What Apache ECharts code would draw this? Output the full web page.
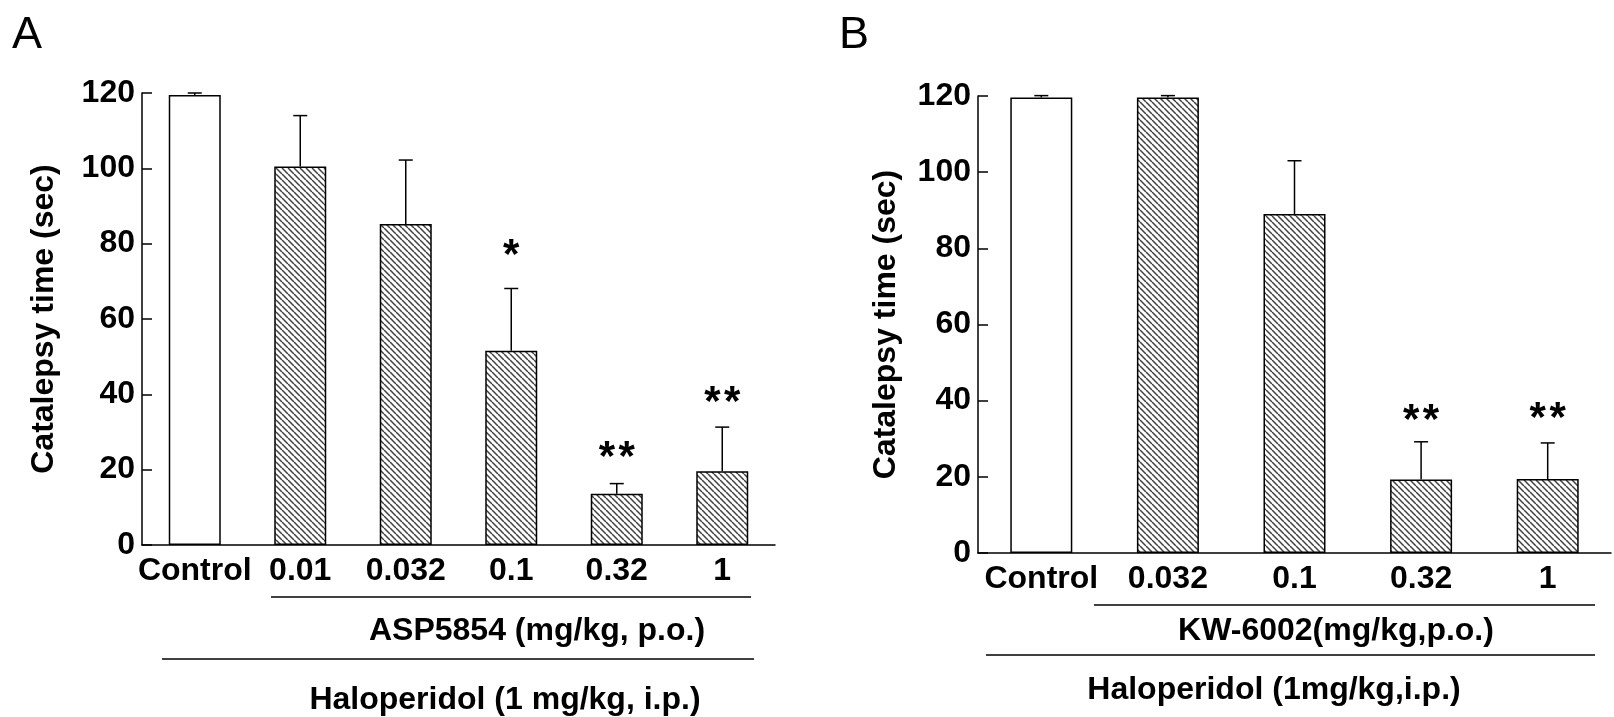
<!DOCTYPE html>
<html>
<head>
<meta charset="utf-8">
<script src="https://cdn.jsdelivr.net/npm/echarts@6/dist/echarts.min.js"></script>
<style>
html,body{margin:0;padding:0;background:#fff;}
#chart{width:1614px;height:717px;}
</style>
</head>
<body>
<div id="chart"></div>
<script>
// ---- Data ----
const catsA = ['Control', '0.01', '0.032', '0.1', '0.32', '1'];
const meanA = [119.5, 100.5, 85.2, 51.6, 13.6, 19.6];
const semA  = [0.5, 13.5, 17.0, 16.5, 2.7, 11.7];
const starsA = ['', '', '', '*', '*\u200A*', '*\u200A*'];
const starYA = [null, null, null, 76.5, 23.0, 37.5];

const catsB = ['Control', '0.032', '0.1', '0.32', '1'];
const meanB = [119.6, 119.6, 89.0, 19.3, 19.4];
const semB  = [0.5, 0.5, 14.0, 9.9, 9.5];
const starsB = ['', '', '', '*\u200A*', '*\u200A*'];
const starYB = [null, null, null, 34.6, 35.1];

const yTicks = [0, 20, 40, 60, 80, 100, 120];

// ---- Styling helpers ----
const FONT = "'Liberation Sans', Arial, sans-serif";
const hatch = (function () {
  const s = 6;
  const c = document.createElement('canvas');
  c.width = s; c.height = s;
  const ctx = c.getContext('2d');
  ctx.fillStyle = '#ffffff';
  ctx.fillRect(0, 0, s, s);
  ctx.strokeStyle = '#404040';
  ctx.lineWidth = 1.5;
  for (let k = -1; k <= 1; k++) {
    ctx.beginPath();
    ctx.moveTo(0, k * s);
    ctx.lineTo(s, s + k * s);
    ctx.stroke();
  }
  return c;
})();

function barData(means) {
  return means.map((v, i) => ({
    value: v,
    itemStyle: { color: i === 0 ? '#ffffff' : { image: hatch, repeat: 'repeat' } }
  }));
}

function errSeries(gi, means, sems) {
  return {
    type: 'custom',
    xAxisIndex: gi, yAxisIndex: gi,
    z: 1,
    data: means.map((m, i) => [i, m, m + sems[i]]),
    renderItem: function (params, api) {
      const p0 = api.coord([api.value(0), api.value(1)]);
      const p1 = api.coord([api.value(0), api.value(2)]);
      const hw = 7;
      return {
        type: 'group',
        children: [
          { type: 'line', shape: { x1: p0[0], y1: p0[1], x2: p1[0], y2: p1[1] },
            style: { stroke: '#000', lineWidth: 1.5 } },
          { type: 'line', shape: { x1: p1[0] - hw, y1: p1[1], x2: p1[0] + hw, y2: p1[1] },
            style: { stroke: '#000', lineWidth: 1.5 } }
        ]
      };
    }
  };
}

function starSeries(gi, ys, texts) {
  return {
    type: 'scatter',
    xAxisIndex: gi, yAxisIndex: gi,
    symbolSize: 0,
    silent: true,
    itemStyle: { opacity: 1 },
    data: ys.map((y, i) => (y == null ? null : [i, y])).filter(d => d),
    label: {
      show: true, position: 'inside',
      formatter: p => texts[p.data[0]],
      fontFamily: FONT, fontWeight: 'bold', fontSize: 42, color: '#000',
      opacity: 1, textBorderWidth: 0
    }
  };
}

function yAxis(gi, gap) {
  return {
    type: 'value', gridIndex: gi,
    min: 0, max: 120, interval: 20,
    name: 'Catalepsy time (sec)',
    nameLocation: 'middle', nameRotate: 90, nameGap: gap,
    nameTextStyle: { fontFamily: FONT, fontWeight: 'bold', fontSize: 32, color: '#000' },
    axisLine: { show: true, lineStyle: { color: '#000', width: 1.5 } },
    axisTick: { show: true, inside: true, length: 10, lineStyle: { color: '#000', width: 1.5 } },
    axisLabel: {
      fontFamily: FONT, fontWeight: 'bold', fontSize: 32, color: '#000', margin: 7,
      formatter: v => (yTicks.indexOf(v) >= 0 ? String(v) : '')
    },
    splitLine: { show: false }
  };
}

function xAxis(gi, cats) {
  return {
    type: 'category', gridIndex: gi, data: cats,
    axisLine: { show: true, lineStyle: { color: '#000', width: 1.5 } },
    axisTick: { show: false },
    axisLabel: { fontFamily: FONT, fontWeight: 'bold', fontSize: 32, color: '#000', margin: 10, interval: 0 }
  };
}

function txt(x, y, s, size, weight) {
  return {
    type: 'text', x: x, y: y, silent: true,
    style: { text: s, fontFamily: FONT, fontSize: size, fontWeight: weight || 'bold',
      fill: '#000', align: 'center', verticalAlign: 'middle' }
  };
}
function hline(x1, x2, y) {
  return { type: 'line', silent: true, shape: { x1: x1, y1: y, x2: x2, y2: y },
    style: { stroke: '#000', lineWidth: 1.5 } };
}

const chart = echarts.init(document.getElementById('chart'), null, { renderer: 'canvas' });
chart.setOption({
  backgroundColor: '#ffffff',
  animation: false,
  grid: [
    { left: 142, top: 93, width: 633, height: 452 },
    { left: 978, top: 96, width: 633, height: 457 }
  ],
  xAxis: [xAxis(0, catsA), xAxis(1, catsB)],
  yAxis: [yAxis(0, 82), yAxis(1, 76)],
  series: [
    { type: 'bar', xAxisIndex: 0, yAxisIndex: 0, barWidth: 52, z: 2,
      data: barData(meanA), itemStyle: { borderColor: '#000', borderWidth: 1.5 } },
    errSeries(0, meanA, semA),
    starSeries(0, starYA, starsA),
    { type: 'bar', xAxisIndex: 1, yAxisIndex: 1, barWidth: 62, z: 2,
      data: barData(meanB), itemStyle: { borderColor: '#000', borderWidth: 1.5 } },
    errSeries(1, meanB, semB),
    starSeries(1, starYB, starsB)
  ],
  graphic: [
    { type: 'text', x: 12, y: 36, silent: true,
      style: { text: 'A', fontFamily: FONT, fontSize: 45, fontWeight: 'normal', fill: '#000', align: 'left', verticalAlign: 'middle' } },
    { type: 'text', x: 839, y: 36, silent: true,
      style: { text: 'B', fontFamily: FONT, fontSize: 45, fontWeight: 'normal', fill: '#000', align: 'left', verticalAlign: 'middle' } },
    hline(271, 751, 597),
    txt(537, 631, 'ASP5854 (mg/kg, p.o.)', 32),
    hline(162, 754, 659),
    txt(505, 700, 'Haloperidol (1 mg/kg, i.p.)', 32),
    hline(1094, 1595, 605),
    txt(1336, 631, 'KW-6002(mg/kg,p.o.)', 32),
    hline(986, 1595, 655),
    txt(1274, 690, 'Haloperidol (1mg/kg,i.p.)', 32)
  ]
});
</script>
</body>
</html>
